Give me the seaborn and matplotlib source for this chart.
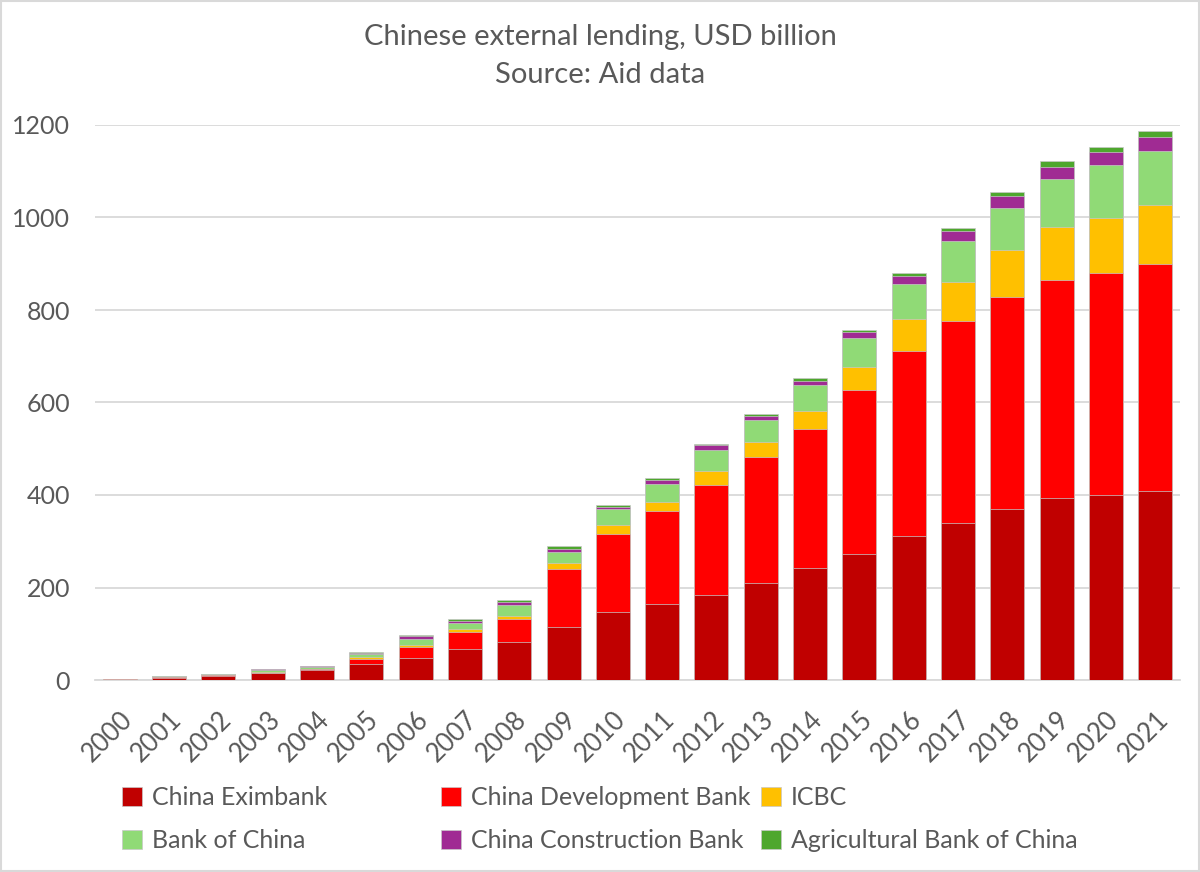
import matplotlib
matplotlib.use("Agg")
import matplotlib.pyplot as plt
import seaborn as sns
import numpy as np
from matplotlib.patches import Patch, Rectangle

years = [str(y) for y in range(2000, 2022)]
china_eximbank = [1, 5, 9.5, 15, 22, 35, 48, 67, 83, 115, 148, 165, 184, 210, 243, 272, 312, 340, 370, 393, 399, 408]
china_development_bank = [0.5, 1.5, 1.5, 1, 1, 11, 24, 37, 49, 125, 168, 200, 238, 272, 300, 355, 400, 437, 458, 472, 481, 491]
icbc = [0.2, 0.3, 0.5, 2, 0.5, 4.3, 3.6, 5.7, 6.5, 13, 19.3, 20.2, 30.3, 32.6, 38.9, 49.7, 68.5, 84, 102, 114.6, 119.5, 128]
bank_of_china = [1.3, 1, 1.2, 3.5, 4.5, 5.1, 13.6, 14.5, 24.5, 24.5, 34, 38.2, 44, 47.4, 56.2, 62.7, 75.5, 88, 91.2, 103, 113, 117]
china_construction_bank = [0, 0.5, 0.6, 1.3, 1.5, 3.6, 5.8, 4.4, 6.5, 6.5, 5.8, 9.2, 10.9, 8, 9.4, 13, 18, 22, 26, 27.6, 30, 31]
agricultural_bank = [0, 0.3, 0.4, 1, 0.5, 1.4, 2.9, 2.8, 2.8, 5, 4.2, 3.7, 2.8, 4.4, 5, 5.1, 6, 7, 7, 11, 11, 12]

series_names = ["China Eximbank", "China Development Bank", "ICBC",
                "Bank of China", "China Construction Bank", "Agricultural Bank of China"]
series = [china_eximbank, china_development_bank, icbc, bank_of_china,
          china_construction_bank, agricultural_bank]
colors = ["#C00000", "#FF0000", "#FFC000", "#90DA76", "#A02B93", "#4EA72E"]
yticks = [0, 200, 400, 600, 800, 1000, 1200]

sns.set_style("white")
plt.rcParams["font.family"] = ["Lato", "DejaVu Sans"]
text_color = "#595959"

fig = plt.figure(figsize=(12, 8.72), dpi=100)
ax = fig.add_axes([95 / 1200, 1 - 680 / 872, (1180 - 95) / 1200, (680 - 125) / 872])

cum = np.cumsum(np.array(series, dtype=float), axis=0)
for i in range(len(series) - 1, -1, -1):
    sns.barplot(x=years, y=cum[i], color=colors[i], width=0.69, saturation=1,
                edgecolor="#C8C8C8", linewidth=0.5, ax=ax, zorder=3)

ax.set_ylim(0, 1200)
ax.set_yticks(yticks)
ax.set_yticklabels([str(t) for t in yticks])
ax.set_xlabel("")
ax.set_ylabel("")
ax.grid(axis="y", color="#D9D9D9", linewidth=1.3, zorder=0)
ax.set_axisbelow(True)
for s in ["top", "right", "left"]:
    ax.spines[s].set_visible(False)
ax.spines["bottom"].set_color("#D9D9D9")
ax.spines["bottom"].set_linewidth(1.3)
ax.tick_params(axis="y", length=0, labelsize=18, labelcolor=text_color, pad=18)
ax.tick_params(axis="x", length=0, labelsize=18.5, labelcolor=text_color, pad=19)
for lbl in ax.get_xticklabels():
    lbl.set_rotation(45)
    lbl.set_ha("right")
    lbl.set_rotation_mode("anchor")
ax.set_xlim(-0.5, len(years) - 0.5)

fig.text(0.5, 1 - 37 / 872, "Chinese external lending, USD billion", ha="center", va="center",
         fontsize=21, color=text_color)
fig.text(0.5, 1 - 75 / 872, "Source: Aid data", ha="center", va="center",
         fontsize=21, color=text_color)

# legend in three columns, row-major order
col_x = [122 / 1200, 441 / 1200, 761 / 1200]
for c in range(3):
    idx = [c, c + 3]
    handles = [Patch(facecolor=colors[k], edgecolor="#C8C8C8", linewidth=0.5) for k in idx]
    labels = [series_names[k] for k in idx]
    leg = fig.legend(handles, labels, loc="upper left",
                     bbox_to_anchor=(col_x[c], 1 - 786 / 872), frameon=False,
                     fontsize=18, handlelength=0.8, handleheight=0.8, handletextpad=0.4,
                     labelspacing=0.8, borderaxespad=0, borderpad=0)
    for t in leg.get_texts():
        t.set_color(text_color)

fig.patches.append(Rectangle((0.001, 0.001), 0.998, 0.998, transform=fig.transFigure,
                             fill=False, edgecolor="#D9D9D9", linewidth=1.5))

fig.savefig("out.png", dpi=100, facecolor="white")
